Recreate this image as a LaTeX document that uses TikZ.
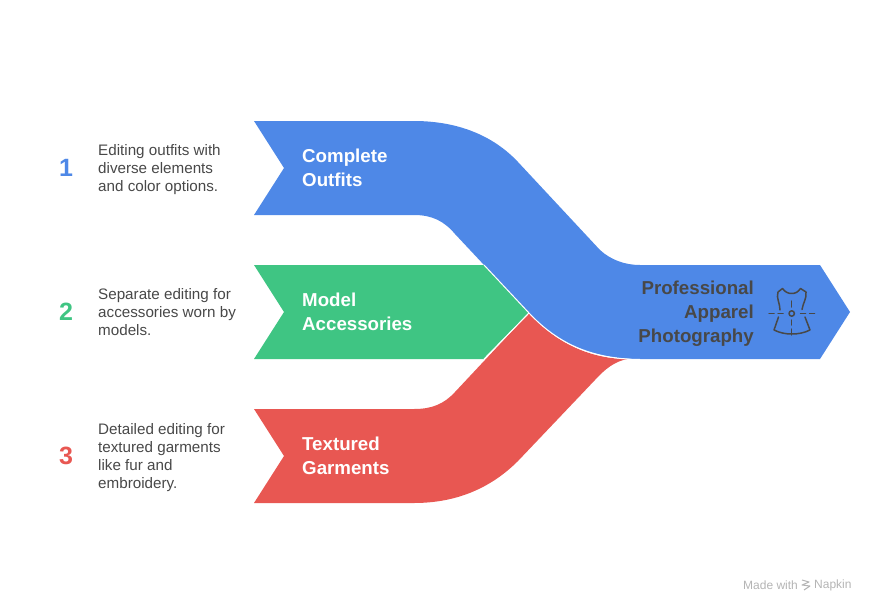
\documentclass[tikz,border=0pt]{standalone}
\usepackage{fontspec}
\setmainfont{Liberation Sans}
\definecolor{ribbonblue}{HTML}{4E88E7}
\definecolor{ribbongreen}{HTML}{3FC583}
\definecolor{ribbonred}{HTML}{E85752}
\definecolor{inkgray}{HTML}{484848}
\definecolor{markgray}{HTML}{B4B4B4}
\tikzset{
  gap/.style={draw=white, line width=1pt},
  number/.style={inner sep=0pt, font=\fontsize{25}{25}\selectfont\bfseries},
  struts/.style={execute at begin node=\strut, execute at end node=\strut, yshift=-3pt},
  note/.style={inner sep=0pt, anchor=west, align=left, struts, text=inkgray, font=\fontsize{15.2}{18}\selectfont},
  title/.style={inner sep=0pt, anchor=west, align=left, struts, text=white, font=\fontsize{18.7}{24}\selectfont\bfseries},
  icon/.style={draw=inkgray, line width=1.5pt, line cap=round, line join=round},
  brand/.style={inner sep=0pt, anchor=west, text=markgray, font=\fontsize{12}{12}\selectfont}
}
\begin{document}
\begin{tikzpicture}[x=1pt, y=-1pt]
\useasboundingbox (0,0) rectangle (875,613);
% ribbons
\fill [ribbonred] (254,409) -- (414,409) .. controls (432,409) and (444,404) .. (455,392) -- (529,313) .. controls (556,343) and (590,359) .. (628,359) .. controls (615,361) and (605,369) .. (595,380) -- (518,461) .. controls (488,491) and (452,503) .. (414,503) -- (254,503) -- (284,456) -- cycle;
\fill [ribbongreen] (254,265) -- (484,265) -- (529,312) -- (484,359) -- (254,359) -- (284,312) -- cycle;
\fill [ribbonblue] (254,121) -- (414,121) .. controls (448,121) and (488,130) .. (518,162) -- (600,250) .. controls (611,260) and (625,265) .. (640,265) -- (820,265) -- (850,312) -- (820,359) -- (640,359) .. controls (595,359) and (560,346) .. (529,313) -- (455,234) .. controls (444,221) and (432,215) .. (414,215) -- (254,215) -- (284,168) -- cycle;
% white seams
\draw [gap] (484,265) -- (529,313) .. controls (560,346) and (595,359) .. (640,359.5);
\draw [gap] (529,313) -- (484,359);
% numbers
\node (n1) [number, text=ribbonblue] at (66,167.5) {1};
\node (n2) [number, text=ribbongreen] at (66,311.5) {2};
\node (n3) [number, text=ribbonred] at (66,455.5) {3};
% notes
\node (t1) [note] at (98,168) {Editing outfits with\\diverse elements\\and color options.};
\node (t2) [note] at (98,312) {Separate editing for\\accessories worn by\\models.};
\node (t3) [note] at (98,456) {Detailed editing for\\textured garments\\like fur and\\embroidery.};
% titles
\node (a) [title] at (302,168) {Complete\\Outfits};
\node (b) [title] at (302,312) {Model\\Accessories};
\node (c) [title] at (302,456) {Textured\\Garments};
\node (d) [title, anchor=east, align=right, text=inkgray] at (754,312) {Professional\\Apparel\\Photography};
% icon
\draw [icon] (780,310) .. controls (780,303) and (776,298) .. (778,292) -- (782.5,288.5) .. controls (785,292) and (788,293.5) .. (791.7,293.5) .. controls (795.5,293.5) and (798,292) .. (800.5,288.5) -- (806,292) .. controls (807,298) and (803,303) .. (802,309.5);
\draw [icon] (778.5,317) -- (774,330) .. controls (780,333) and (786,334) .. (791.7,334) .. controls (798,334) and (804,333) .. (810,330) -- (805,317);
\draw [icon] (769,313.5) -- (774,313.5) (778,313.5) -- (783,313.5) (800.5,313.5) -- (805.5,313.5) (809.5,313.5) -- (814.5,313.5);
\draw [icon] (791.7,301) -- (791.7,307) (791.7,320) -- (791.7,325) (791.7,329) -- (791.7,335);
\draw [icon] (791.7,313.5) circle (2.7);
% brand mark
\node (m1) [brand] at (743,585) {Made with};
\node (m2) [brand] at (814,585) {Napkin};
\draw [markgray, line width=1pt, line join=round] (802,580) -- (809,582) -- (802,585) -- (810,586) -- (804,590);
\end{tikzpicture}
\end{document}
